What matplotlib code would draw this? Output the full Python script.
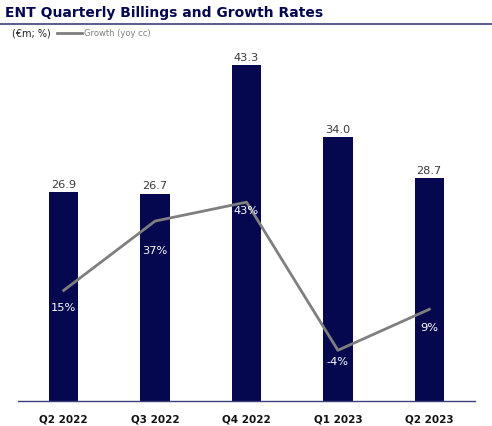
import matplotlib
matplotlib.use("Agg")
import matplotlib.pyplot as plt
from matplotlib.lines import Line2D

quarters = ["Q2 2022", "Q3 2022", "Q4 2022", "Q1 2023", "Q2 2023"]
billings = [26.9, 26.7, 43.3, 34.0, 28.7]
growth = [15, 37, 43, -4, 9]
growth_labels = ["15%", "37%", "43%", "-4%", "9%"]

NAVY = "#05084f"
GRAY = "#7f7f7f"

W, H = 492, 427
fig = plt.figure(figsize=(W / 100, H / 100), dpi=100)
plt.rcParams['font.family'] = ['DejaVu Sans']

ax_left, ax_right = 18 / W, 475 / W
ax_bottom = (H - 401.7) / H
ax_top = (H - 50) / H
ax = fig.add_axes([ax_left, ax_bottom, ax_right - ax_left, ax_top - ax_bottom])

x = list(range(len(quarters)))
bars = ax.bar(x, billings, width=0.32, color=NAVY, zorder=2)
ax.set_xlim(-0.5, len(quarters) - 0.5)
ax.set_ylim(0, 45.4)
for xi, v in zip(x, billings):
    ax.annotate(f"{v:.1f}", (xi, v), xytext=(0, 2.5), textcoords="offset points",
                ha="center", va="bottom", fontsize=8.2, color="#3a3a3a")

for s in ["top", "right", "left"]:
    ax.spines[s].set_visible(False)
ax.spines["bottom"].set_color("#3d3f7a")
ax.spines["bottom"].set_linewidth(1.0)
ax.set_yticks([])
ax.set_xticks(x)
ax.set_xticklabels(quarters, fontsize=7.5, fontweight="bold", color="#111111")
ax.tick_params(axis="x", length=0, pad=9)

ax2 = ax.twinx()
ax2.set_ylim(-20, 91.6)
ax2.plot(x, growth, color=GRAY, lw=2.0, zorder=3)
ax2.axis("off")
label_offsets = [-12, -21, -6, -8, -13]
for xi, g, lab, off in zip(x, growth, growth_labels, label_offsets):
    ax2.annotate(lab, (xi, g), xytext=(0, off), textcoords="offset points",
                 ha="center", va="center", fontsize=8.2, color="white")

# Title and rule
fig.text(5 / W, 1 - 13 / H, "ENT Quarterly Billings and Growth Rates",
         fontsize=10, fontweight="bold", color=NAVY, ha="left", va="center")
fig.add_artist(Line2D([0, 1], [1 - 24.5 / H, 1 - 24.5 / H], transform=fig.transFigure,
                      color="#3d3f7a", lw=1.2))

# Legend-like header
fig.text(12 / W, 1 - 34 / H, "(€m; %)", fontsize=7, color="#222222", ha="left", va="center")
fig.add_artist(Line2D([57 / W, 82 / W], [1 - 34 / H, 1 - 34 / H], transform=fig.transFigure,
                      color=GRAY, lw=2.0))
fig.text(84 / W, 1 - 34 / H, "Growth (yoy cc)", fontsize=6, color=GRAY, ha="left", va="center")

fig.savefig("out.png", dpi=100)
